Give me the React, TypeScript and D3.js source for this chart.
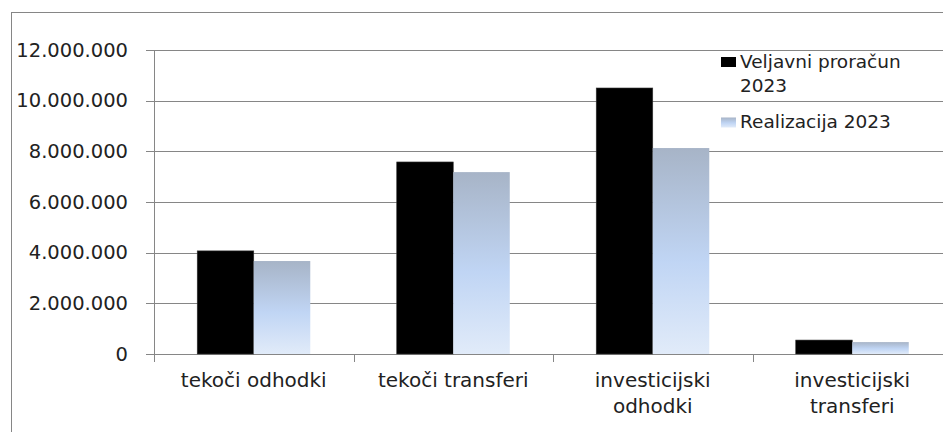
import React from 'react';
import * as d3 from 'd3';

const categories = [['tekoči odhodki'], ['tekoči transferi'], ['investicijski', 'odhodki'], ['investicijski', 'transferi']];
const seriesNames = ['Veljavni proračun 2023', 'Realizacija 2023'];
const veljavni = [4070000, 7580000, 10500000, 550000];
const realizacija = [3670000, 7180000, 8130000, 470000];
const yTicks = [0, 2000000, 4000000, 6000000, 8000000, 10000000, 12000000];

const W = 943;
const H = 432;
const FONT = '"DejaVu Sans", sans-serif';
const GRID = '#868686';

const fmt = (v: number) => (v === 0 ? '0' : d3.format(',')(v).replace(/,/g, '.'));

const App: React.FC = () => {
  const left = 154;
  const bottom = 354;
  const top = 50;

  const x = d3.scaleBand<number>()
    .domain(d3.range(categories.length))
    .range([left, left + 199.5 * categories.length])
    .padding(0);
  const xSub = d3.scaleBand<number>()
    .domain([0, 1])
    .range([0, x.bandwidth()])
    .paddingInner(0)
    .paddingOuter(0.765);
  const y = d3.scaleLinear().domain([0, 12000000]).range([bottom, top]);

  const series = [veljavni, realizacija];

  return (
    <svg width={W} height={H} style={{ position: 'absolute', left: 0, top: 0, background: '#fff' }}>
      <defs>
        <linearGradient id="blueGrad" x1="0" y1="0" x2="0" y2="1">
          <stop offset="0%" stopColor="#a7b4c7" />
          <stop offset="55%" stopColor="#c0d5f4" />
          <stop offset="100%" stopColor="#e1ebf9" />
        </linearGradient>
      </defs>
      <rect x={0} y={0} width={W} height={H} fill="#fff" />
      {/* outer chart border */}
      <line x1={11.5} x2={11.5} y1={12} y2={H} stroke={GRID} strokeWidth={1} />
      <line x1={11} x2={W} y1={12.5} y2={12.5} stroke={GRID} strokeWidth={1} />

      {/* gridlines + y labels */}
      {yTicks.map((t) => (
        <g key={t}>
          <line x1={146} x2={W} y1={Math.round(y(t)) + 0.5} y2={Math.round(y(t)) + 0.5} stroke={GRID} strokeWidth={1} />
          <text x={128} y={y(t)} dominantBaseline="central" textAnchor="end"
            fontFamily={FONT} fontSize={19.5} fill="#222">{fmt(t)}</text>
        </g>
      ))}
      {/* y axis */}
      <line x1={left + 0.5} x2={left + 0.5} y1={top} y2={bottom + 8} stroke={GRID} strokeWidth={1} />

      {/* category ticks */}
      {d3.range(categories.length + 1).map((i) => {
        const xx = Math.round(left + x.step() * i) + 0.5;
        return <line key={i} x1={xx} x2={xx} y1={bottom} y2={bottom + 8} stroke={GRID} strokeWidth={1} />;
      })}

      {/* bars */}
      {categories.map((_, i) => (
        <g key={i} transform={`translate(${x(i)},0)`}>
          {series.map((s, j) => (
            <rect key={j}
              x={xSub(j)}
              y={y(s[i])}
              width={xSub.bandwidth()}
              height={bottom - y(s[i])}
              fill={j === 0 ? '#000' : 'url(#blueGrad)'}
              stroke={j === 0 ? '#333' : 'none'}
              strokeWidth={j === 0 ? 0.6 : 0} />
          ))}
        </g>
      ))}

      {/* category labels */}
      {categories.map((lines, i) => (
        <text key={i} textAnchor="middle" fontFamily={FONT} fontSize={20} fill="#222">
          {lines.map((l, k) => (
            <tspan key={k} x={(x(i) || 0) + x.bandwidth() / 2} y={387 + k * 26}>{l}</tspan>
          ))}
        </text>
      ))}

      {/* legend */}
      <rect x={721} y={57} width={15} height={10} fill="#000" />
      <text fontFamily={FONT} fontSize={18.5} fill="#222">
        <tspan x={740} y={67.5}>Veljavni proračun</tspan>
        <tspan x={740} y={91.5}>2023</tspan>
      </text>
      <rect x={721} y={117.5} width={15} height={10} fill="url(#blueGrad)" />
      <text x={740} y={127.5} fontFamily={FONT} fontSize={18.5} fill="#222">{seriesNames[1]}</text>
    </svg>
  );
};

export default App;
